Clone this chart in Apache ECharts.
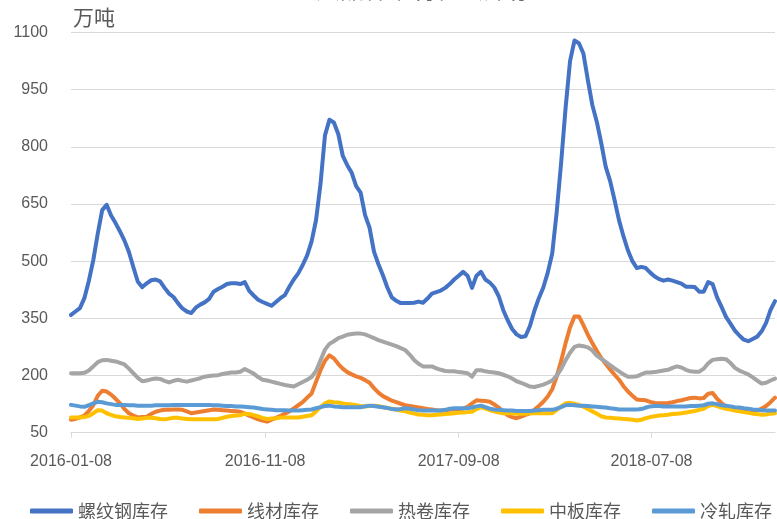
<!DOCTYPE html>
<html>
<head>
<meta charset="utf-8">
<script src="https://cdn.jsdelivr.net/npm/echarts@6/dist/echarts.min.js"></script>
<style>html,body{margin:0;padding:0;background:#fff;}#c{width:777px;height:519px;}</style>
</head>
<body>
<div id="c"></div>
<script>
const seriesNames = ['螺纹钢库存', '线材库存', '热卷库存', '中板库存', '冷轧库存'];
const seriesColors = ['#4472C4', '#ED7D31', '#A5A5A5', '#FFC000', '#5B9BD5'];
const tickLabels = ['2016-01-08', '2016-11-08', '2017-09-08', '2018-07-08'];
const firstWeek = '2016-01-08';

const rebar = [359,368,377,403,448,503,572,634,648,620,600,578,554,524,484,446,432,442,450,452,
447,430,415,406,390,376,368,364,378,386,392,401,420,427,433,440,442,442,440,445,
422,410,399,393,388,383,393,403,411,433,452,468,490,515,552,608,703,830,871,864,
833,776,752,732,697,680,621,588,525,492,463,431,405,396,390,390,390,391,394,391,
402,415,419,423,430,440,452,462,472,462,430,462,472,452,444,431,408,372,345,322,
308,301,303,330,370,403,431,470,520,628,758,902,1025,1079,1072,1045,975,910,866,810,
748,710,660,607,565,528,500,482,485,482,470,460,453,449,452,449,445,441,433,433,
432,420,420,445,440,405,380,354,336,318,305,294,290,296,302,316,338,372,395];

const wire = [84,86,90,95,107,122,147,160,158,150,139,127,112,101,95,90,91,92,99,105,
108,110,110,111,111,110,106,101,103,105,107,109,111,110,109,108,107,106,105,100,
95,90,85,82,79,84,89,94,100,106,114,122,130,142,153,184,214,239,253,245,
230,218,209,203,198,194,188,181,167,155,146,140,134,130,126,122,120,118,116,114,
112,111,109,108,109,110,111,112,113,118,127,135,134,133,131,124,116,105,96,91,
88,92,97,101,110,120,131,145,164,197,238,285,326,355,355,332,307,285,265,246,
231,216,202,189,172,158,147,137,136,135,131,128,127,127,128,130,133,135,138,141,
142,140,141,152,154,139,128,118,115,111,109,107,105,104,108,113,120,130,142];

const hotCoil = [206,206,206,207,213,224,235,240,241,239,237,233,229,218,206,194,185,187,190,192,
191,186,182,186,189,186,184,187,190,193,197,199,200,201,204,206,208,208,210,217,
211,205,196,189,187,184,181,178,175,173,171,177,183,189,196,212,240,268,283,290,
298,302,307,309,310,310,308,303,298,293,289,285,281,277,272,267,255,241,231,224,
224,224,219,215,212,211,211,209,208,206,197,214,214,211,209,208,206,202,198,192,
185,181,176,171,170,173,176,181,187,200,217,240,260,275,279,277,274,266,252,244,
236,227,219,211,203,197,197,198,203,208,208,209,211,213,215,220,224,221,215,211,
210,210,218,232,241,243,244,243,233,220,213,208,203,195,187,179,181,187,192];

const plate = [90,90,90,91,94,101,109,108,101,97,93,91,90,89,88,86,87,89,89,88,
86,85,87,89,89,87,86,85,85,85,85,85,85,86,89,92,94,95,96,100,
99,96,93,89,86,87,88,90,90,90,90,90,92,94,96,106,117,127,132,130,
129,127,125,124,122,120,119,120,121,120,117,115,113,111,108,106,103,100,98,97,
96,96,97,98,99,100,101,102,103,104,105,112,117,113,109,106,103,101,101,101,
100,100,100,101,101,101,101,101,101,110,119,127,128,126,123,118,112,106,100,93,
90,89,88,87,86,85,84,82,84,88,91,93,95,96,97,99,100,101,103,105,
107,110,113,120,123,120,116,113,111,108,106,104,102,100,99,97,98,100,101];

const coldRolled = [123,121,119,118,122,127,131,130,127,125,123,123,123,122,122,121,121,121,121,122,
122,122,122,123,123,123,123,123,123,123,123,123,122,122,121,120,120,119,119,118,
117,116,114,112,111,110,109,109,109,108,108,108,109,110,111,114,117,120,121,119,
118,117,117,117,117,117,119,121,120,118,117,115,112,111,112,114,113,111,109,108,
108,108,108,108,110,113,114,114,114,114,116,119,121,117,113,111,110,109,108,108,
107,107,107,107,108,109,110,110,110,113,117,122,123,122,121,121,120,119,118,117,
116,114,113,111,111,111,111,111,112,116,119,120,120,119,119,119,119,119,119,120,
120,121,122,126,127,125,122,121,119,117,116,114,113,111,110,109,108,108,108];

const DAY = 86400000;
function utcDay(s) { const p = s.split('-').map(Number); return Date.UTC(p[0], p[1] - 1, p[2]); }
const start = utcDay(firstWeek);
function dayOffset(s) { return Math.round((utcDay(s) - start) / DAY); }
function fmt(off) {
  const d = new Date(start + off * DAY);
  const m = d.getUTCMonth() + 1, dd = d.getUTCDate();
  return d.getUTCFullYear() + '-' + (m < 10 ? '0' : '') + m + '-' + (dd < 10 ? '0' : '') + dd;
}
// weekly observation dates, as day offsets from the first week
const weekOffsets = rebar.map((_, i) => i * 7);
const tickOffsets = tickLabels.map(dayOffset);
const allValues = [rebar, wire, hotCoil, plate, coldRolled];

const chart = echarts.init(document.getElementById('c'), null, {renderer: 'canvas'});
chart.setOption({
  animation: false,
  backgroundColor: '#ffffff',
  title: {
    text: '五大品种钢材社会库存',
    left: 287, top: -28,
    textStyle: {fontSize: 24, color: '#404040', fontWeight: 'normal', fontFamily: 'Noto Sans CJK SC'}
  },
  graphic: [{
    type: 'text', left: 73, top: 7,
    style: {text: '万吨', fontSize: 21, fill: '#595959', fontFamily: 'Noto Sans CJK SC'}
  }],
  grid: {left: 71, right: 2, top: 32.5, bottom: 86.3, containLabel: false},
  legend: {
    left: 25, top: 497,
    itemWidth: 43, itemHeight: 5, itemGap: 31,
    icon: 'roundRect',
    textStyle: {fontSize: 18, color: '#595959', fontFamily: 'Noto Sans CJK SC'},
    data: seriesNames
  },
  xAxis: {
    type: 'value',
    min: 0, max: weekOffsets[weekOffsets.length - 1],
    axisLine: {show: true, onZero: false, lineStyle: {color: '#d9d9d9', width: 1}},
    axisTick: {show: true, customValues: tickOffsets, length: 5, lineStyle: {color: '#d9d9d9'}},
    axisLabel: {customValues: tickOffsets, formatter: v => fmt(v), fontSize: 16, color: '#595959', margin: 21,
      fontFamily: 'Liberation Sans', hideOverlap: false, showMinLabel: true, showMaxLabel: true},
    splitLine: {show: false}
  },
  yAxis: {
    type: 'value', min: 50, max: 1100, interval: 150,
    axisLine: {show: false}, axisTick: {show: false},
    axisLabel: {formatter: v => String(v), fontSize: 16, color: '#595959', margin: 23, fontFamily: 'Liberation Sans'},
    splitLine: {lineStyle: {color: '#d9d9d9', width: 1}}
  },
  series: seriesNames.map((name, k) => ({
    name: name, type: 'line', showSymbol: false, symbol: 'none',
    color: seriesColors[k],
    lineStyle: {width: 4, color: seriesColors[k], cap: 'round', join: 'round'},
    data: allValues[k].map((v, i) => [weekOffsets[i], v])
  }))
});
</script>
</body>
</html>
